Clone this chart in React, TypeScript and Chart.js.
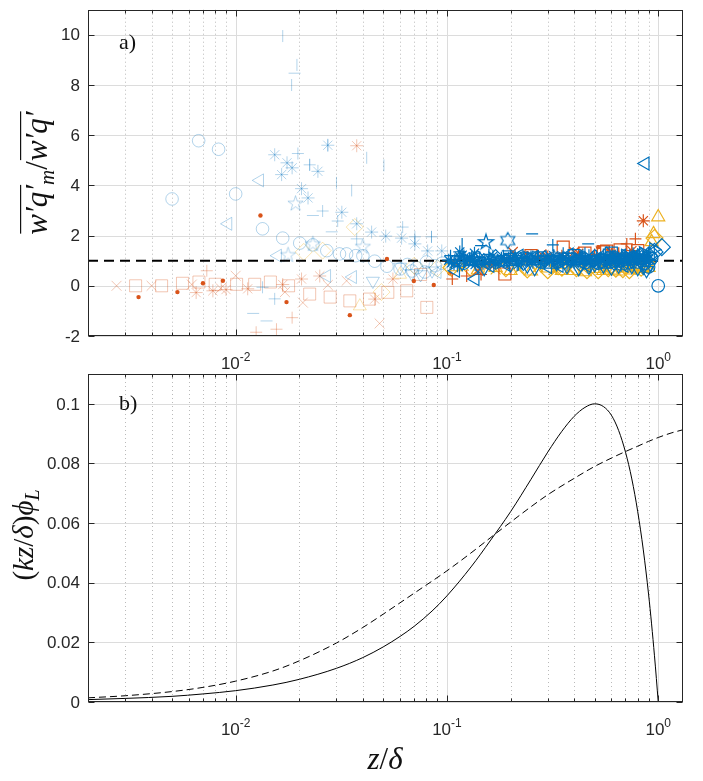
import React, { useEffect, useRef } from "react";
import Chart from "chart.js/auto";

type Pt = [number, number];

const BLUE = "#0072BD";
const RED = "#D95319";
const YELLOW = "#EDB120";
const BLUE_F = "rgba(0,114,189,0.3)";
const RED_F = "rgba(217,83,25,0.33)";
const YELLOW_F = "rgba(237,177,32,0.35)";

const X_MIN = 0.002;
const X_MAX = 1.31;

// tick labels
const xTickValues = [0.01, 0.1, 1];
const xTickExponents = ["-2", "-1", "0"];
const yTicksTop = [-2, 0, 2, 4, 6, 8, 10];
const yTicksBottom = [0, 0.02, 0.04, 0.06, 0.08, 0.1];
const yLabelsBottom = ["0", "0.02", "0.04", "0.06", "0.08", "0.1"];

// panel a) faded points (z/delta < 0.1)
const fadedBlueCircle: Pt[] = [
  [0.005, 3.46], [0.00668, 5.78], [0.0083, 5.44], [0.01, 3.66], [0.0134, 2.27],
  [0.0167, 1.9], [0.0201, 1.7], [0.0232, 1.63], [0.027, 1.4], [0.031, 1.27],
  [0.0335, 1.27], [0.037, 1.2], [0.04, 1.2], [0.0455, 0.98], [0.052, 0.78],
  [0.06, 0.67], [0.0683, 0.59], [0.0786, 0.55], [0.065, 0.85], [0.072, 0.72],
  [0.08, 0.95], [0.088, 0.8], [0.095, 0.9],
];
const fadedBlueTriLeft: Pt[] = [
  [0.0092, 2.47], [0.013, 4.2], [0.0158, 1.2], [0.027, 0.39], [0.0358, 0.35], [0.09, 0.55],
];
const fadedBlueTriDown: Pt[] = [
  [0.0446, 0.19], [0.06, 0.75], [0.075, 0.45], [0.068, 0.5], [0.085, 0.6],
];
const fadedBlueAsterisk: Pt[] = [
  [0.0153, 5.22], [0.0175, 4.9], [0.0185, 4.7], [0.0165, 4.43], [0.0245, 4.56],
  [0.0205, 3.87], [0.022, 3.5], [0.0318, 2.93], [0.0273, 5.6], [0.0374, 2.47],
  [0.044, 2.14], [0.0513, 1.98], [0.061, 1.9], [0.0705, 1.67], [0.081, 1.39], [0.0945, 1.39],
];
const fadedBluePlus: Pt[] = [
  [0.0197, 5.27], [0.0224, 4.82], [0.0258, 2.98], [0.0304, 2.58], [0.0374, 1.87],
  [0.0617, 2.34], [0.0705, 1.95], [0.0845, 1.95], [0.0153, -0.52], [0.0134, -0.06],
];
const fadedBlueVBar: Pt[] = [
  [0.0167, 9.95], [0.0195, 8.8], [0.0184, 8.0], [0.0273, 5.6], [0.0417, 5.1],
  [0.0503, 4.8], [0.03, 4.1], [0.0354, 3.8], [0.0224, 4.82], [0.0705, 1.8], [0.0845, 1.95],
];
const fadedBlueHBar: Pt[] = [
  [0.019, 8.47], [0.0232, 2.8], [0.0285, 2.15], [0.0121, -1.1], [0.014, -1.4],
];
const fadedBluePent: Pt[] = [[0.0192, 3.27], [0.0177, 1.22], [0.0232, 1.66], [0.04, 1.55]];
const fadedYellowDiamond: Pt[] = [
  [0.0366, 2.34], [0.0258, 1.4], [0.049, -0.25], [0.021, 1.35], [0.07, 0.8], [0.09, 0.7],
];
const fadedYellowTri: Pt[] = [[0.0387, -0.81], [0.06, 0.45]];
const fadedRedSquare: Pt[] = [
  [0.00336, 0], [0.00446, 0], [0.0056, 0.1], [0.0067, 0.15], [0.008, 0.06],
  [0.0101, 0.06], [0.0123, 0.06], [0.0146, 0.15], [0.0178, 0], [0.0224, -0.33],
  [0.028, -0.45], [0.0347, -0.6], [0.043, -0.53], [0.0525, -0.26], [0.0645, -0.2],
  [0.0803, -0.86], [0.075, 0.45],
];
const fadedRedX: Pt[] = [
  [0.00273, 0], [0.004, 0], [0.01, 0.4], [0.0171, -0.25], [0.0208, -0.67],
  [0.0273, 0.03], [0.0335, 0.2], [0.048, -1.5], [0.0085, -0.1], [0.0062, 0.05],
];
const fadedRedAsterisk: Pt[] = [
  [0.0065, -0.27], [0.0078, -0.2], [0.009, -0.15], [0.0114, -0.12], [0.0167, 0.05],
  [0.0205, 0.27], [0.025, 0.39], [0.0374, 5.58], [0.0455, -0.53], [0.0555, 0.27],
];
const fadedRedPlus: Pt[] = [[0.0073, 0.6], [0.0185, -1.27], [0.0125, -1.85], [0.0156, -1.73]];
const redDots: Pt[] = [
  [0.00347, -0.45], [0.0053, -0.25], [0.007, 0.1], [0.0087, 0.2], [0.0131, 2.8],
  [0.0174, -0.65], [0.0347, -1.17], [0.052, 1.07], [0.0697, 0.19], [0.0866, 0.03],
  [0.103, 0.5], [0.52, 1.54], [0.24, 1.3], [0.58, 1.45], [0.27, 1.1],
];

// panel a) full colour points (z/delta >= 0.1)
const blueAsterisk: Pt[] = [
  [0.102, 1.02], [0.108, 0.88], [0.115, 1.15], [0.121, 0.96], [0.128, 1.08], [0.136, 0.85],
  [0.143, 1.12], [0.151, 0.98], [0.16, 1.05], [0.17, 0.9], [0.181, 1.1], [0.192, 0.97],
  [0.205, 1.04], [0.218, 0.86], [0.232, 1.13], [0.247, 0.99], [0.262, 1.06], [0.278, 0.91],
  [0.295, 1.16], [0.313, 1.01], [0.333, 0.94], [0.354, 1.12], [0.376, 1.03], [0.4, 0.92],
  [0.425, 1.14], [0.452, 1.05], [0.48, 0.97], [0.51, 1.18], [0.542, 1.06], [0.576, 0.99],
  [0.612, 1.15], [0.65, 1.08], [0.69, 1.02], [0.733, 1.2], [0.779, 1.1], [0.827, 1.05],
  [0.879, 1.22], [0.115, 1.35], [0.135, 1.3], [0.105, 0.92], [0.118, 1.22], [0.132, 1.0],
  [0.148, 0.9], [0.165, 1.18], [0.186, 1.0], [0.21, 1.2], [0.225, 0.95], [0.255, 1.15],
  [0.285, 1.05], [0.32, 1.2], [0.345, 1.0], [0.39, 1.1], [0.44, 0.95], [0.47, 1.2],
  [0.53, 0.95], [0.59, 1.1], [0.63, 0.95], [0.67, 1.2], [0.71, 1.05], [0.76, 0.98],
  [0.8, 1.25], [0.85, 1.12], [0.9, 1.05],
];
const bluePlus: Pt[] = [
  [0.104, 1.2], [0.112, 0.78], [0.125, 1.05], [0.14, 0.95], [0.158, 1.25], [0.175, 1.0],
  [0.196, 1.12], [0.215, 0.82], [0.24, 1.0], [0.268, 1.18], [0.29, 0.88], [0.317, 1.63],
  [0.34, 1.1], [0.37, 0.85], [0.41, 1.05], [0.44, 1.22], [0.47, 0.9], [0.505, 1.0],
  [0.55, 1.25], [0.59, 0.95], [0.63, 1.12], [0.67, 0.88], [0.72, 1.05], [0.76, 1.3],
  [0.81, 0.98], [0.86, 1.15], [0.9, 1.32], [0.109, 1.05], [0.131, 1.15], [0.167, 0.92],
  [0.185, 1.2], [0.225, 1.08], [0.255, 0.92], [0.305, 1.0], [0.355, 1.3], [0.39, 0.95],
  [0.43, 1.1], [0.49, 1.15], [0.53, 1.1], [0.57, 1.05], [0.61, 1.2], [0.65, 0.98],
  [0.69, 1.15], [0.74, 0.95], [0.79, 1.2], [0.84, 1.05], [0.88, 1.0],
];
const blueTriLeft: Pt[] = [
  [0.136, 0.27], [0.868, 4.87], [0.11, 0.6], [0.16, 0.8], [0.22, 1.2], [0.3, 0.75],
  [0.38, 1.25], [0.46, 0.8], [0.55, 1.1], [0.64, 0.85], [0.74, 1.15], [0.83, 0.9], [0.92, 1.3],
  [0.19, 0.85], [0.26, 1.15], [0.34, 0.8], [0.42, 1.1], [0.5, 0.9], [0.6, 1.15], [0.69, 0.8],
  [0.78, 1.2], [0.87, 1.0],
];
const blueTriDown: Pt[] = [
  [0.118, 0.9], [0.15, 0.7], [0.2, 0.85], [0.26, 0.7], [0.33, 0.9], [0.42, 0.7],
  [0.5, 0.85], [0.6, 0.72], [0.7, 0.9], [0.8, 0.7], [0.88, 0.62], [0.14, 0.82], [0.24, 0.8],
  [0.37, 0.78], [0.47, 0.75], [0.55, 0.8], [0.65, 0.8], [0.75, 0.78], [0.85, 0.75], [0.92, 0.85],
];
const blueTriRight: Pt[] = [
  [0.125, 1.0], [0.18, 0.95], [0.25, 1.1], [0.35, 0.95], [0.45, 1.15], [0.58, 1.0],
  [0.7, 1.2], [0.85, 1.3], [0.95, 1.45],
];
const blueTriUp: Pt[] = [[0.13, 0.95], [0.21, 1.05], [0.31, 0.85], [0.43, 1.0], [0.56, 0.85], [0.68, 1.05], [0.82, 1.0]];
const blueDiamond: Pt[] = [
  [0.14, 1.05], [0.23, 0.95], [0.36, 1.0], [0.5, 1.1], [0.62, 0.95], [0.75, 1.05],
  [0.9, 1.2], [1.04, 1.54], [0.96, 1.35], [0.17, 1.1], [0.29, 1.05], [0.43, 0.9],
  [0.57, 1.2], [0.69, 1.1], [0.83, 1.15],
];
const blueCircle: Pt[] = [
  [1.0, 0.0], [0.12, 0.9], [0.19, 1.0], [0.28, 0.95], [0.39, 1.05], [0.52, 0.9],
  [0.66, 1.0], [0.8, 0.95], [0.93, 1.1], [0.9, 0.75], [0.23, 1.1], [0.34, 0.98],
  [0.45, 0.92], [0.59, 0.95], [0.73, 0.92], [0.86, 0.88],
];
const bluePent: Pt[] = [[0.153, 1.74], [0.12, 1.1], [0.25, 1.05], [0.4, 1.0], [0.6, 1.05]];
const blueHex: Pt[] = [[0.194, 1.8], [0.16, 1.0], [0.32, 1.1], [0.54, 1.0]];
const blueVBar: Pt[] = [[0.118, 1.67], [0.2, 1.2], [0.45, 1.3], [0.7, 1.25]];
const blueHBar: Pt[] = [[0.253, 2.07], [0.466, 1.67], [0.38, 1.3], [0.6, 1.35], [0.145, 1.6], [0.194, 1.39], [0.27, 1.35]];
const blueX: Pt[] = [[0.14, 1.0], [0.3, 1.05], [0.5, 0.95], [0.72, 1.1]];
const blueSquare: Pt[] = [[0.4, 1.2], [0.6, 1.3], [0.2, 1.05]];
const yellowTriUp: Pt[] = [
  [1.0, 2.74], [0.95, 2.07], [0.93, 1.75], [0.11, 0.75], [0.2, 0.6], [0.3, 0.7],
  [0.4, 0.6], [0.5, 0.68], [0.6, 0.62], [0.7, 0.7], [0.8, 0.75], [0.14, 0.62], [0.17, 0.72],
  [0.25, 0.58], [0.35, 0.6], [0.45, 0.55], [0.55, 0.6], [0.65, 0.58], [0.75, 0.62],
  [0.85, 0.68], [0.9, 0.72],
];
const yellowDiamond: Pt[] = [
  [0.96, 1.9], [0.13, 0.7], [0.24, 0.65], [0.35, 0.72], [0.46, 0.62], [0.58, 0.7],
  [0.68, 0.66], [0.78, 0.8], [0.88, 0.9], [0.105, 0.72], [0.19, 0.7], [0.3, 0.62],
  [0.41, 0.7], [0.52, 0.62], [0.63, 0.68], [0.73, 0.62], [0.83, 0.72],
];
const yellowX: Pt[] = [
  [0.12, 0.8], [0.17, 0.65], [0.27, 0.75], [0.38, 0.68], [0.48, 0.75], [0.62, 0.78],
  [0.75, 0.7], [0.85, 0.85], [0.22, 0.68], [0.32, 0.62], [0.44, 0.68], [0.56, 0.65],
  [0.67, 0.72], [0.8, 0.66],
];
const yellowAsterisk: Pt[] = [[0.15, 0.8], [0.33, 0.7], [0.55, 0.75], [0.72, 0.78]];
const redPlus: Pt[] = [[0.106, 0.27], [0.124, 0.39], [0.78, 1.87], [0.71, 1.67], [0.2, 1.1], [0.35, 1.2], [0.5, 1.25], [0.65, 1.3], [0.145, 0.45]];
const redSquare: Pt[] = [[0.355, 1.54], [0.66, 1.43], [0.188, 0.47], [0.25, 1.2], [0.45, 1.3], [0.55, 1.35], [0.8, 1.4], [0.57, 1.38]];
const redAsterisk: Pt[] = [[0.85, 2.59], [0.16, 0.85], [0.3, 1.15], [0.42, 1.3], [0.6, 1.25], [0.75, 1.4]];
const redX: Pt[] = [[0.205, 1.35], [0.11, 0.9], [0.14, 0.6], [0.28, 1.25], [0.4, 1.35], [0.62, 1.2]];

const refLine: Pt[] = [[X_MIN, 1], [X_MAX, 1]];

// panel b) curves
const solidZ = [0.002, 0.003, 0.005, 0.007, 0.01, 0.015, 0.02, 0.03, 0.04, 0.05, 0.06, 0.07, 0.085, 0.1, 0.13, 0.16, 0.2, 0.25, 0.3, 0.35, 0.4, 0.45, 0.5, 0.55, 0.6, 0.65, 0.7, 0.75, 0.8, 0.85, 0.9, 0.93, 0.96, 0.98, 1.0];
const solidPhi = [0.0008, 0.0012, 0.0019, 0.0027, 0.0038, 0.0057, 0.0076, 0.0113, 0.0149, 0.0185, 0.022, 0.0254, 0.0305, 0.0356, 0.0453, 0.054, 0.0638, 0.0747, 0.0838, 0.0908, 0.0958, 0.0988, 0.1, 0.0991, 0.0962, 0.091, 0.0838, 0.0748, 0.0638, 0.051, 0.0362, 0.0262, 0.0155, 0.0079, 0];
const dashedZ = [0.002, 0.003, 0.005, 0.007, 0.01, 0.015, 0.02, 0.03, 0.04, 0.05, 0.07, 0.1, 0.13, 0.16, 0.2, 0.25, 0.3, 0.4, 0.5, 0.6, 0.7, 0.8, 0.9, 1.0, 1.15, 1.31];
const dashedPhi = [0.0014, 0.0021, 0.0035, 0.0049, 0.007, 0.0104, 0.0138, 0.0198, 0.025, 0.0295, 0.0365, 0.044, 0.05, 0.055, 0.0603, 0.0655, 0.0695, 0.075, 0.079, 0.0818, 0.084, 0.0858, 0.0874, 0.0887, 0.0902, 0.0913];

const SANS = '"Liberation Sans", Arial, Helvetica, sans-serif';
const SERIF = '"Liberation Serif", "DejaVu Serif", serif';
const INK = "#262626";

type Run = { t: string; font: string; dy?: number; over?: boolean };

function drawRuns(ctx: CanvasRenderingContext2D, runs: Run[], cx: number, cy: number, rotate: boolean, overY = 0) {
  ctx.save();
  ctx.translate(cx, cy);
  if (rotate) ctx.rotate(-Math.PI / 2);
  ctx.textAlign = "left";
  ctx.textBaseline = "alphabetic";
  ctx.fillStyle = "#111";
  const widths = runs.map((r) => {
    ctx.font = r.font;
    return ctx.measureText(r.t).width;
  });
  const total = widths.reduce((s, w) => s + w, 0);
  let u = -total / 2;
  runs.forEach((r, i) => {
    ctx.font = r.font;
    ctx.fillText(r.t, u, r.dy ?? 0);
    if (r.over) ctx.fillRect(u + 1, overY, widths[i] - 1, 1.2);
    u += widths[i];
  });
  ctx.restore();
}

function starImage(n: number, inner: number, color: string, r: number, lw: number) {
  const size = Math.ceil(2 * r + lw + 2);
  const c = document.createElement("canvas");
  c.width = size;
  c.height = size;
  const g = c.getContext("2d")!;
  g.strokeStyle = color;
  g.lineWidth = lw;
  g.beginPath();
  for (let i = 0; i < 2 * n; i++) {
    const rr = i % 2 === 0 ? r : r * inner;
    const a = -Math.PI / 2 + (i * Math.PI) / n;
    const px = size / 2 + rr * Math.cos(a);
    const py = size / 2 + rr * Math.sin(a);
    if (i === 0) g.moveTo(px, py);
    else g.lineTo(px, py);
  }
  g.closePath();
  g.stroke();
  return c;
}

// marker sizes roughly matching MATLAB's default 6pt markers
const SIZE: Record<string, number> = {
  circle: 6.3,
  triangle: 7.5,
  rect: 8.5,
  rectRot: 8.5,
  cross: 6,
  crossRot: 7,
  star: 6.5,
  line: 6,
};

function markers(pts: Pt[], style: any, color: string, order: number, opts: { rotation?: number; radius?: number; fill?: boolean; lw?: number } = {}) {
  const r = opts.radius ?? (typeof style === "string" ? SIZE[style] : 8);
  return {
    type: "scatter" as const,
    data: pts.map(([x, y]) => ({ x, y })),
    showLine: false,
    pointStyle: style,
    rotation: opts.rotation ?? 0,
    pointRadius: r,
    pointHoverRadius: r,
    pointBorderColor: color,
    pointBackgroundColor: opts.fill ? color : "rgba(0,0,0,0)",
    pointBorderWidth: opts.lw ?? 1.1,
    order,
  };
}

type FrameOpts = {
  id: string;
  yTicks: number[];
  yLabels: string[];
  panel: string;
  panelBaseline: number;
  titles: (ctx: CanvasRenderingContext2D) => void;
};

function framePlugin(o: FrameOpts) {
  return {
    id: o.id,
    beforeDatasetsDraw(chart: any) {
      const { ctx, chartArea: a, scales } = chart;
      const xs = scales.x;
      const ys = scales.y;
      ctx.save();
      ctx.lineWidth = 1;
      ctx.strokeStyle = "rgba(140,140,140,0.6)";
      ctx.setLineDash([1, 3]);
      for (const d of [0.001, 0.01, 0.1, 1]) {
        for (let m = 2; m <= 9; m++) {
          const v = m * d;
          if (v <= X_MIN || v >= X_MAX) continue;
          const px = Math.round(xs.getPixelForValue(v)) + 0.5;
          ctx.beginPath();
          ctx.moveTo(px, a.top);
          ctx.lineTo(px, a.bottom);
          ctx.stroke();
        }
      }
      ctx.setLineDash([]);
      ctx.strokeStyle = "#dcdcdc";
      for (const v of xTickValues) {
        const px = Math.round(xs.getPixelForValue(v)) + 0.5;
        ctx.beginPath();
        ctx.moveTo(px, a.top);
        ctx.lineTo(px, a.bottom);
        ctx.stroke();
      }
      for (const v of o.yTicks) {
        const py = Math.round(ys.getPixelForValue(v)) + 0.5;
        ctx.beginPath();
        ctx.moveTo(a.left, py);
        ctx.lineTo(a.right, py);
        ctx.stroke();
      }
      ctx.restore();
    },
    afterDraw(chart: any) {
      const { ctx, chartArea: a, scales } = chart;
      const xs = scales.x;
      const ys = scales.y;
      const L = Math.round(a.left) + 0.5;
      const R = Math.round(a.right) - 0.5;
      const T = Math.round(a.top) + 0.5;
      const B = Math.round(a.bottom) - 0.5;
      ctx.save();
      ctx.strokeStyle = INK;
      ctx.lineWidth = 1;
      ctx.strokeRect(L, T, R - L, B - T);
      ctx.beginPath();
      for (const d of [0.001, 0.01, 0.1, 1]) {
        for (let m = 1; m <= 9; m++) {
          const v = m * d;
          if (v <= X_MIN || v >= X_MAX) continue;
          const len = m === 1 ? 6 : 3;
          const px = Math.round(xs.getPixelForValue(v)) + 0.5;
          ctx.moveTo(px, B);
          ctx.lineTo(px, B - len);
          ctx.moveTo(px, T);
          ctx.lineTo(px, T + len);
        }
      }
      for (const v of o.yTicks) {
        const py = Math.round(ys.getPixelForValue(v)) + 0.5;
        ctx.moveTo(L, py);
        ctx.lineTo(L + 6, py);
        ctx.moveTo(R, py);
        ctx.lineTo(R - 6, py);
      }
      ctx.stroke();

      ctx.fillStyle = INK;
      ctx.font = `17px ${SANS}`;
      ctx.textAlign = "right";
      ctx.textBaseline = "middle";
      o.yTicks.forEach((v, i) => {
        ctx.fillText(o.yLabels[i], a.left - 8, ys.getPixelForValue(v) + 1);
      });

      ctx.textAlign = "left";
      ctx.textBaseline = "alphabetic";
      xTickValues.forEach((v, i) => {
        const px = xs.getPixelForValue(v);
        ctx.font = `17px ${SANS}`;
        const w1 = ctx.measureText("10").width;
        ctx.font = `12px ${SANS}`;
        const w2 = ctx.measureText(xTickExponents[i]).width;
        const x0 = px - (w1 + w2) / 2;
        const base = a.bottom + 33;
        ctx.font = `17px ${SANS}`;
        ctx.fillText("10", x0, base);
        ctx.font = `12px ${SANS}`;
        ctx.fillText(xTickExponents[i], x0 + w1, base - 8);
      });

      ctx.fillStyle = "#111";
      ctx.font = `22px ${SERIF}`;
      ctx.fillText(o.panel, 119, a.top + o.panelBaseline);
      ctx.restore();
      o.titles(ctx);
    },
  };
}

const I = (px: number) => `italic ${px}px ${SERIF}`;
const N = (px: number) => `${px}px ${SERIF}`;

const TOP_H = 372;
const BOTTOM_H = 409;

const App: React.FC = () => {
  const topRef = useRef<HTMLCanvasElement | null>(null);
  const bottomRef = useRef<HTMLCanvasElement | null>(null);

  useEffect(() => {
    if (!topRef.current || !bottomRef.current) return;

    const pentFull = starImage(5, 0.382, BLUE, 8, 1.2);
    const hexFull = starImage(6, 0.577, BLUE, 8, 1.2);
    const pentFaded = starImage(5, 0.382, BLUE_F, 8, 1);

    const topChart = new Chart(topRef.current, {
      type: "scatter",
      data: {
        datasets: [
          markers(fadedBlueCircle, "circle", BLUE_F, 20, { lw: 1 }),
          markers(fadedBlueTriLeft, "triangle", BLUE_F, 20, { rotation: 270, lw: 1 }),
          markers(fadedBlueTriDown, "triangle", BLUE_F, 20, { rotation: 180, lw: 1 }),
          markers(fadedBlueAsterisk, "star", BLUE_F, 20, { lw: 1 }),
          markers(fadedBluePlus, "cross", BLUE_F, 20, { lw: 1 }),
          markers(fadedBlueVBar, "line", BLUE_F, 20, { rotation: 90, lw: 1 }),
          markers(fadedBlueHBar, "line", BLUE_F, 20, { lw: 1 }),
          markers(fadedBluePent, pentFaded, BLUE_F, 20),
          markers(fadedYellowDiamond, "rectRot", YELLOW_F, 20, { lw: 1 }),
          markers(fadedYellowTri, "triangle", YELLOW_F, 20, { lw: 1 }),
          markers(fadedRedSquare, "rect", RED_F, 20, { lw: 1 }),
          markers(fadedRedX, "crossRot", RED_F, 20, { lw: 1 }),
          markers(fadedRedAsterisk, "star", RED_F, 20, { lw: 1 }),
          markers(fadedRedPlus, "cross", RED_F, 20, { lw: 1 }),
          {
            type: "line" as const,
            data: refLine.map(([x, y]) => ({ x, y })),
            borderColor: "#000",
            borderWidth: 2,
            borderDash: [10, 6],
            pointRadius: 0,
            showLine: true,
            fill: false,
            order: 10,
          },
          markers(redDots, "circle", RED, 9, { radius: 2.2, fill: true, lw: 0 }),
          markers(yellowTriUp, "triangle", YELLOW, 6, { lw: 1.2 }),
          markers(yellowDiamond, "rectRot", YELLOW, 6, { lw: 1.2 }),
          markers(yellowX, "crossRot", YELLOW, 6, { lw: 1.2 }),
          markers(yellowAsterisk, "star", YELLOW, 6, { lw: 1.2 }),
          markers(redPlus, "cross", RED, 4, { lw: 1.2 }),
          markers(redSquare, "rect", RED, 4, { lw: 1.2 }),
          markers(redAsterisk, "star", RED, 4, { lw: 1.2 }),
          markers(redX, "crossRot", RED, 4, { lw: 1.2 }),
          markers(blueAsterisk, "star", BLUE, 2, { lw: 1.2 }),
          markers(bluePlus, "cross", BLUE, 2, { lw: 1.2 }),
          markers(blueTriLeft, "triangle", BLUE, 2, { rotation: 270, lw: 1.2 }),
          markers(blueTriDown, "triangle", BLUE, 2, { rotation: 180, lw: 1.2 }),
          markers(blueTriRight, "triangle", BLUE, 2, { rotation: 90, lw: 1.2 }),
          markers(blueTriUp, "triangle", BLUE, 2, { lw: 1.2 }),
          markers(blueDiamond, "rectRot", BLUE, 2, { lw: 1.2 }),
          markers(blueCircle, "circle", BLUE, 2, { lw: 1.2 }),
          markers(bluePent, pentFull, BLUE, 2),
          markers(blueHex, hexFull, BLUE, 2),
          markers(blueVBar, "line", BLUE, 2, { rotation: 90, lw: 1.2 }),
          markers(blueHBar, "line", BLUE, 2, { lw: 1.2 }),
          markers(blueX, "crossRot", BLUE, 2, { lw: 1.2 }),
          markers(blueSquare, "rect", BLUE, 2, { lw: 1.2 }),
        ] as any,
      },
      options: {
        animation: false,
        responsive: false,
        events: [],
        layout: { padding: { left: 88, right: 20, top: 9, bottom: TOP_H - 336 } },
        plugins: { legend: { display: false }, tooltip: { enabled: false } },
        scales: {
          x: { type: "logarithmic", min: X_MIN, max: X_MAX, display: false },
          y: { type: "linear", min: -2, max: 11, display: false },
        },
      },
      plugins: [
        framePlugin({
          id: "frameTop",
          yTicks: yTicksTop,
          yLabels: yTicksTop.map(String),
          panel: "a)",
          panelBaseline: 39,
          titles: (ctx) => {
            drawRuns(
              ctx,
              [
                { t: "w′q′", font: I(31) },
                { t: "m", font: I(21), dy: 7 },
                { t: "/", font: N(31) },
                { t: "w′q′", font: I(31) },
              ].map((r, i) => ({ ...r, over: i === 0 || i === 3 })),
              47,
              173,
              true,
              -27
            );
          },
        }),
      ],
    });

    const bottomChart = new Chart(bottomRef.current, {
      type: "scatter",
      data: {
        datasets: [
          {
            data: solidZ.map((x, i) => ({ x, y: solidPhi[i] })),
            showLine: true,
            borderColor: "#000",
            borderWidth: 1,
            pointRadius: 0,
            cubicInterpolationMode: "monotone",
            fill: false,
          },
          {
            data: dashedZ.map((x, i) => ({ x, y: dashedPhi[i] })),
            showLine: true,
            borderColor: "#000",
            borderWidth: 1,
            borderDash: [7, 4],
            pointRadius: 0,
            cubicInterpolationMode: "monotone",
            fill: false,
          },
        ] as any,
      },
      options: {
        animation: false,
        responsive: false,
        events: [],
        layout: { padding: { left: 88, right: 20, top: 2, bottom: BOTTOM_H - 330 } },
        plugins: { legend: { display: false }, tooltip: { enabled: false } },
        scales: {
          x: { type: "logarithmic", min: X_MIN, max: X_MAX, display: false },
          y: { type: "linear", min: 0, max: 0.11, display: false },
        },
      },
      plugins: [
        framePlugin({
          id: "frameBottom",
          yTicks: yTicksBottom,
          yLabels: yLabelsBottom,
          panel: "b)",
          panelBaseline: 36,
          titles: (ctx) => {
            drawRuns(
              ctx,
              [
                { t: "(", font: N(29) },
                { t: "kz", font: I(29) },
                { t: "/", font: N(29) },
                { t: "δ", font: I(29) },
                { t: ")", font: N(29) },
                { t: "ϕ", font: I(29) },
                { t: "L", font: I(20), dy: 6 },
              ],
              33,
              163,
              true
            );
            drawRuns(
              ctx,
              [
                { t: "z", font: I(31) },
                { t: "/", font: N(31) },
                { t: "δ", font: I(31) },
              ],
              385,
              397,
              false
            );
          },
        }),
      ],
    });

    return () => {
      topChart.destroy();
      bottomChart.destroy();
    };
  }, []);

  return (
    <div style={{ position: "absolute", left: 0, top: 0, width: 703, height: 781, background: "#fff" }}>
      <canvas
        ref={topRef}
        width={703}
        height={TOP_H}
        style={{ position: "absolute", left: 0, top: 0, width: 703, height: TOP_H }}
      />
      <canvas
        ref={bottomRef}
        width={703}
        height={BOTTOM_H}
        style={{ position: "absolute", left: 0, top: TOP_H, width: 703, height: BOTTOM_H }}
      />
    </div>
  );
};

export default App;
